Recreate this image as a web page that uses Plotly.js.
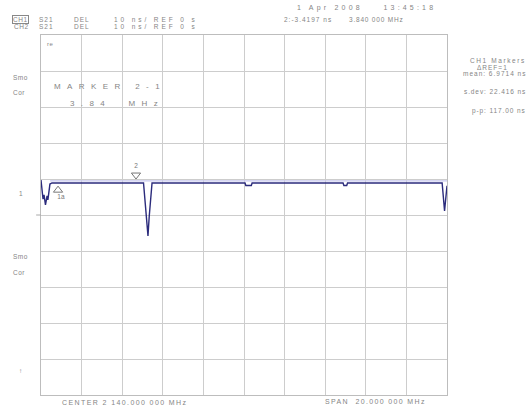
<!DOCTYPE html>
<html>
<head>
<meta charset="utf-8">
<script src="https://cdn.plot.ly/plotly-3.0.1.min.js"></script>
<style>html,body{margin:0;padding:0;background:#fff;}#chart{width:529px;height:410px;}</style>
</head>
<body>
<div id="chart"></div>
<script>
// CH1 S21 group delay trace (frequency in MHz, delay in ns)
const ch1Freq  = [2130.00, 2130.10, 2130.15, 2130.22, 2130.30, 2130.34, 2130.44, 2130.54,
                  2135.05, 2135.12, 2135.20, 2135.27, 2135.33, 2135.40, 2135.47,
                  2140.05, 2140.09, 2140.36, 2140.40,
                  2144.88, 2144.92, 2145.06, 2145.10,
                  2149.76, 2149.88, 2150.00];
const ch1Delay = [9.7, 4.4, 5.6, 2.8, 5.3, 4.2, 8.6, 8.9,
                  8.9, 3.5, -2.5, -5.8, -0.5, 5.5, 8.9,
                  8.9, 8.2, 8.2, 8.9,
                  8.9, 8.2, 8.2, 8.9,
                  8.9, 1.1, 8.1];
// CH2 trace (light)
const ch2Freq  = [2130.45, 2150.00];
const ch2Delay = [9.5, 9.5];
// markers
const markerFreq   = [2130.84, 2134.68];
const markerDelay  = [6.9, 11.1];
const markerLabelFreq  = [2130.98, 2134.68];
const markerLabelDelay = [4.8, 13.4];
const markerLabels = ['1a', '2'];
// axis settings
const startFreq = 2130, stopFreq = 2150, freqPerDiv = 2;
const refDelay = 0, nsPerDiv = 10;

const grey = '#858585';
const F = 'Liberation Sans, Arial, sans-serif';
function sp(t, ls){ return '<span style="letter-spacing:' + ls + 'px">' + t + '</span>'; }
function ann(text, x, y, size, ls, anchor, extra){
  return Object.assign({xref:'paper', yref:'paper', x:x, y:y, xanchor:anchor||'left', yanchor:'middle',
    showarrow:false, text:sp(text, ls), font:{family:F, size:size, color:grey}}, extra||{});
}
const nb = '\u00a0';
const annotations = [
  ann('CH1', -0.0714, 1.0431, 6.5, 0.5, 'left', {bordercolor:'#888', borderwidth:1, borderpad:0}),
  ann('CH2', -0.0714, 1.0236, 6.5, 0.5),
  ann('S21', -0.0099, 1.0431, 6.5, 1),
  ann('S21', -0.0099, 1.0236, 6.5, 1),
  ann('DEL', 0.0764, 1.0431, 6.5, 1),
  ann('DEL', 0.0764, 1.0236, 6.5, 1),
  ann('10 ns/ REF 0 s', 0.1749, 1.0431, 6.5, 2.9),
  ann('10 ns/ REF 0 s', 0.1749, 1.0236, 6.5, 2.9),
  ann('1 Apr 2008' + nb+nb+nb+nb + '13:45:18', 0.6256, 1.075, 7, 3.2),
  ann('2:-3.4197 ns', 0.5936, 1.0444, 6.5, 1),
  ann('3.840 000 MHz', 0.7537, 1.0444, 6.5, 0.8),
  ann('re', 0.0099, 0.975, 6, 0.5),
  ann('Smo', -0.0739, 0.8833, 6.5, 0.5),
  ann('Cor', -0.0739, 0.8389, 6.5, 0.5),
  ann('Smo', -0.0739, 0.3861, 6.5, 0.5),
  ann('Cor', -0.0739, 0.3389, 6.5, 0.5),
  ann('1', -0.0591, 0.5611, 6.5, 0),
  ann('↑', -0.0591, 0.0667, 6.5, 0),
  ann('MARKER 2-1', 0.0271, 0.8583, 8, 6.4),
  ann('3.84' + nb+nb + 'MHz', 0.0665, 0.8111, 8, 6.4),
  ann('CH1 Markers', 1.1995, 0.9278, 6.5, 1.6, 'right'),
  ann('\u0394REF=1', 1.155, 0.9111, 6.5, 1, 'right'),
  ann('mean: 6.9714 ns', 1.1995, 0.8917, 6.5, 1, 'right'),
  ann('s.dev: 22.416 ns', 1.1995, 0.8417, 6.5, 0.9, 'right'),
  ann('p-p: 117.00 ns', 1.1995, 0.7889, 6.5, 0.9, 'right'),
  ann('CENTER 2 140.000 000 MHz', 0.0468, -0.0222, 7, 1.4),
  ann('SPAN' + nb+nb + '20.000 000 MHz', 0.6946, -0.0194, 7, 1.35)
];

const traces = [
  {x: ch2Freq, y: ch2Delay, mode:'lines', line:{color:'#c8c8ee', width:1.3}, hoverinfo:'skip'},
  {x: ch1Freq, y: ch1Delay, mode:'lines', line:{color:'#2b2b7c', width:1.4}, hoverinfo:'skip'},
  {x: markerFreq, y: markerDelay, mode:'markers',
   marker:{symbol:['triangle-up-open','triangle-down-open'], size:8, color:'#777', line:{width:1}}},
  {x: markerLabelFreq, y: markerLabelDelay, mode:'text', text: markerLabels,
   textfont:{family:F, size:6.5, color:'#777'}}
];

const axisBase = {showgrid:true, gridcolor:'#cdcdcd', gridwidth:1, showline:true, mirror:true,
  linecolor:'#bdbdbd', linewidth:1, zeroline:false, showticklabels:false, ticks:'', fixedrange:true};

const layout = {
  width:529, height:410,
  margin:{l:41, r:82, t:35, b:15},
  paper_bgcolor:'#fff', plot_bgcolor:'#fff',
  showlegend:false,
  xaxis: Object.assign({}, axisBase, {range:[startFreq, stopFreq], tick0:startFreq, dtick:freqPerDiv}),
  yaxis: Object.assign({}, axisBase, {range:[refDelay-5*nsPerDiv, refDelay+5*nsPerDiv], tick0:refDelay, dtick:nsPerDiv}),
  shapes:[{type:'line', xref:'paper', yref:'y', x0:-0.012, x1:0, y0:refDelay, y1:refDelay, line:{color:'#aaa', width:1}}],
  annotations: annotations
};

Plotly.newPlot('chart', traces, layout, {staticPlot:true, displayModeBar:false});
</script>
</body>
</html>
